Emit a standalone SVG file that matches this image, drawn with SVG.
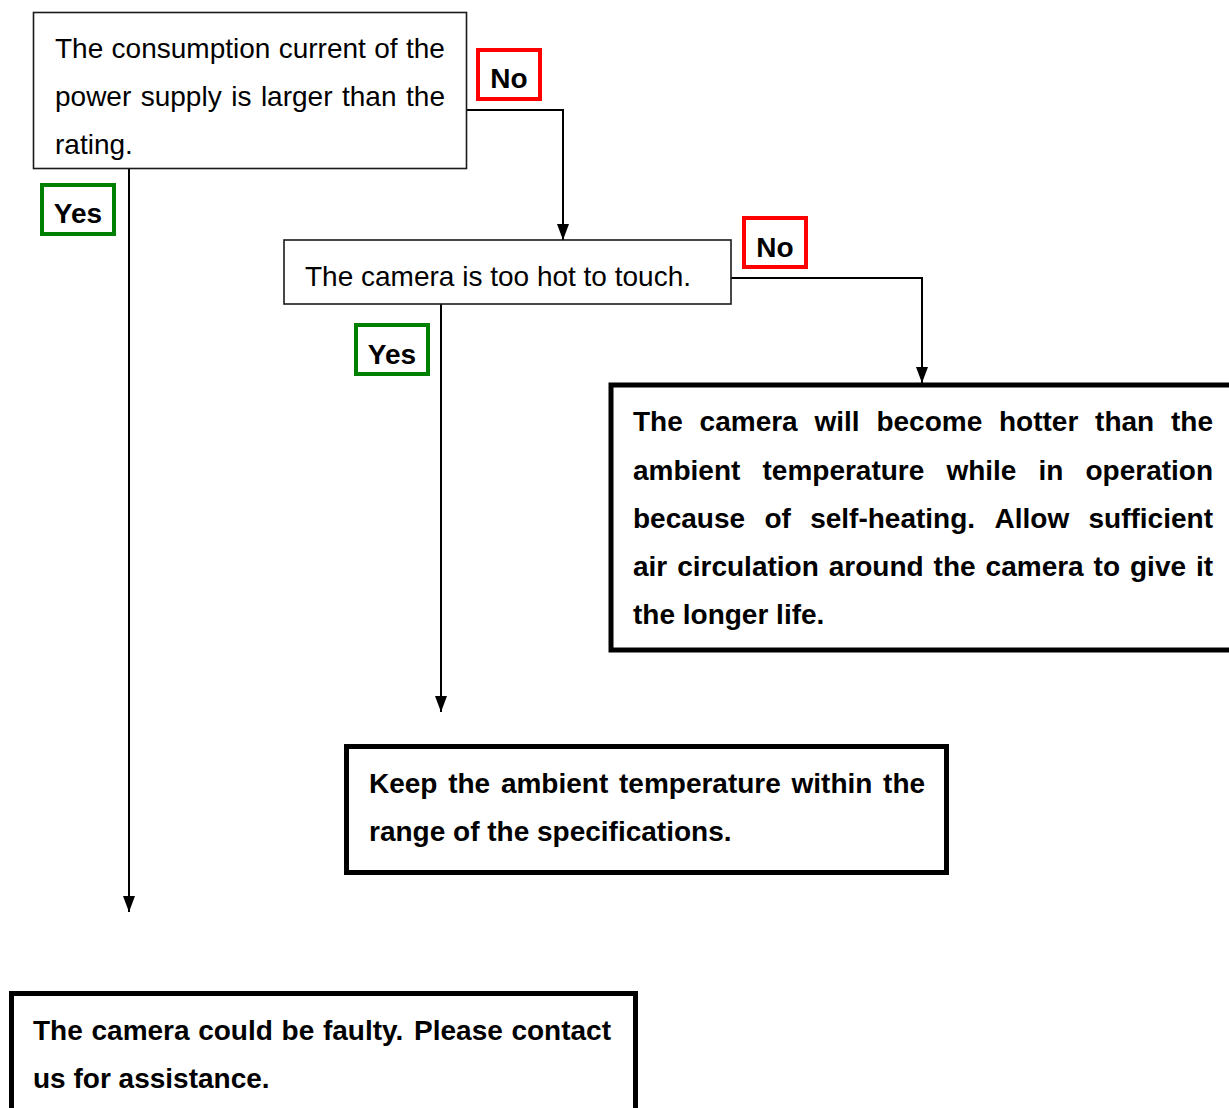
<svg xmlns="http://www.w3.org/2000/svg" width="1229" height="1108" viewBox="0 0 1229 1108">
<style>
.thin{fill:#fff;stroke:#1a1a1a;stroke-width:1.6}
.thick{fill:#fff;stroke:#000;stroke-width:5}
.reg{font-family:"Liberation Sans",Arial,sans-serif;font-size:28px;fill:#000}
.bold{font-family:"Liberation Sans",Arial,sans-serif;font-size:28px;font-weight:bold;fill:#000}
.no{fill:#fff;stroke:#ff0000;stroke-width:4}
.yes{fill:#fff;stroke:#008000;stroke-width:4}
.conn{fill:none;stroke:#000;stroke-width:2}
</style>
<defs>
<marker id="arr" markerUnits="userSpaceOnUse" markerWidth="16" markerHeight="16" refX="16" refY="6" orient="auto">
<path d="M0,0 L16,6 L0,12 z" fill="#000"/>
</marker>
</defs>
<rect width="1229" height="1108" fill="#fff"/>
<g id="connectors">
<path class="conn" d="M467,110 H563 V240" marker-end="url(#arr)"/>
<path class="conn" d="M129,168 V912" marker-end="url(#arr)"/>
<path class="conn" d="M731,278 H922 V383" marker-end="url(#arr)"/>
<path class="conn" d="M441,304 V712" marker-end="url(#arr)"/>
</g>
<g id="q1">
<rect class="thin" x="33.5" y="12.5" width="433" height="156"/>
<text class="reg" y="58"><tspan x="55">The</tspan><tspan x="111.6">consumption</tspan><tspan x="278.7">current</tspan><tspan x="374.2">of</tspan><tspan x="406">the</tspan></text>
<text class="reg" y="106"><tspan x="55">power</tspan><tspan x="140.7">supply</tspan><tspan x="231.2">is</tspan><tspan x="260.9">larger</tspan><tspan x="342">than</tspan><tspan x="406.1">the</tspan></text>
<text class="reg" x="55" y="154">rating.</text>
</g>
<g id="label-no-1">
<rect class="no" x="478" y="50" width="62" height="49"/>
<text class="bold" x="509" y="88" text-anchor="middle">No</text>
</g>
<g id="label-yes-1">
<rect class="yes" x="42" y="185" width="72" height="49"/>
<text class="bold" x="78" y="223" text-anchor="middle">Yes</text>
</g>
<g id="q2">
<rect class="thin" x="284" y="240" width="447" height="64"/>
<text class="reg" x="305" y="286">The camera is too hot to touch.</text>
</g>
<g id="label-no-2">
<rect class="no" x="744" y="218" width="62" height="49"/>
<text class="bold" x="775" y="257" text-anchor="middle">No</text>
</g>
<g id="label-yes-2">
<rect class="yes" x="356" y="325" width="72" height="49"/>
<text class="bold" x="392" y="364" text-anchor="middle">Yes</text>
</g>
<g id="a-selfheat">
<rect class="thick" x="611" y="385" width="640" height="265"/>
<text class="bold" y="431"><tspan x="633">The</tspan><tspan x="699.6">camera</tspan><tspan x="814.5">will</tspan><tspan x="876.4">become</tspan><tspan x="999">hotter</tspan><tspan x="1095.1">than</tspan><tspan x="1171">the</tspan></text>
<text class="bold" y="479.5"><tspan x="633">ambient</tspan><tspan x="762.5">temperature</tspan><tspan x="946.4">while</tspan><tspan x="1038.5">in</tspan><tspan x="1085.5">operation</tspan></text>
<text class="bold" y="528"><tspan x="633">because</tspan><tspan x="764.5">of</tspan><tspan x="810.2">self-heating.</tspan><tspan x="994.5">Allow</tspan><tspan x="1088.5">sufficient</tspan></text>
<text class="bold" y="576"><tspan x="633">air</tspan><tspan x="677.2">circulation</tspan><tspan x="828.8">around</tspan><tspan x="933.6">the</tspan><tspan x="985.6">camera</tspan><tspan x="1093.6">to</tspan><tspan x="1130">give</tspan><tspan x="1196">it</tspan></text>
<text class="bold" x="633" y="624">the longer life.</text>
</g>
<g id="a-ambient">
<rect class="thick" x="346.5" y="746.5" width="600" height="126"/>
<text class="bold" y="793"><tspan x="369">Keep</tspan><tspan x="448.2">the</tspan><tspan x="500.9">ambient</tspan><tspan x="619">temperature</tspan><tspan x="791.5">within</tspan><tspan x="883.1">the</tspan></text>
<text class="bold" x="369" y="841">range of the specifications.</text>
</g>
<g id="a-faulty">
<rect class="thick" x="11.5" y="993.5" width="624" height="130"/>
<text class="bold" y="1040"><tspan x="33">The</tspan><tspan x="91.5">camera</tspan><tspan x="198.2">could</tspan><tspan x="281.6">be</tspan><tspan x="322.9">faulty.</tspan><tspan x="414.1">Please</tspan><tspan x="511.4">contact</tspan></text>
<text class="bold" x="33" y="1088">us for assistance.</text>
</g>
</svg>
